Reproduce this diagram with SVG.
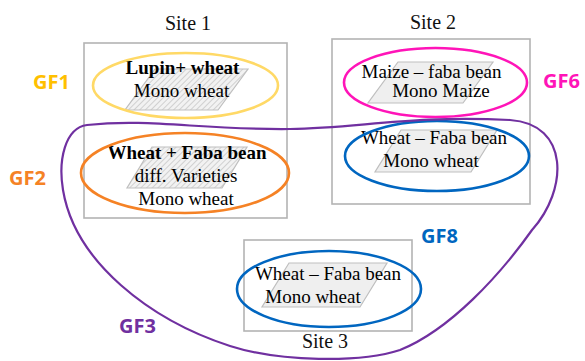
<svg xmlns="http://www.w3.org/2000/svg" width="585" height="361" viewBox="0 0 585 361">
<defs>
<pattern id="hatch" patternUnits="userSpaceOnUse" width="4" height="4" patternTransform="rotate(45)">
<rect width="4" height="4" fill="#f2f2f2"/>
<line x1="0" y1="0" x2="0" y2="4" stroke="#c8c8c8" stroke-width="1.6"/>
</pattern>
<style>
.site{fill:none;stroke:#b3b3b3;stroke-width:1.6}
.pg{stroke:#bfbfbf;stroke-width:1.2}
.solid{fill:#efefef}
.hat{fill:url(#hatch)}
.t{font-family:"Liberation Serif","Times New Roman",serif;font-size:19px;fill:#000;text-anchor:middle}
.b{font-weight:bold}
.st{font-family:"Liberation Serif","Times New Roman",serif;font-size:20px;fill:#111;text-anchor:middle}
.gf{font-family:"Open Sans","Liberation Sans",sans-serif;font-weight:bold;font-size:20px}
.ell{fill:none;stroke-width:2.6}
</style>
</defs>
<g id="site1">
<rect class="site" x="84" y="43" width="203" height="175"/>
<text class="st" x="188" y="30">Site 1</text>
</g>
<g id="site2">
<rect class="site" x="332" y="39" width="198" height="165"/>
<text class="st" x="433" y="29">Site 2</text>
</g>
<g id="site3">
<rect class="site" x="244" y="240" width="168" height="91"/>
<text class="st" x="325" y="348">Site 3</text>
</g>
<g id="gf1">
<polygon class="pg hat" points="155,69 248,69 218,110 125,110"/>
<text class="t b" x="182.5" y="74">Lupin+ wheat</text>
<text class="t" x="181.5" y="97">Mono wheat</text>
<ellipse class="ell" cx="185.5" cy="85.5" rx="92.5" ry="32.5" stroke="#ffd966"/>
<text class="gf" x="33" y="89" fill="#ffc000">GF1</text>
</g>
<g id="gf2">
<polygon class="pg hat" points="152,147 247,147 222,188 127,188"/>
<text class="t b" x="187" y="159">Wheat + Faba bean</text>
<text class="t" x="186" y="182">diff. Varieties</text>
<text class="t" x="186" y="205">Mono wheat</text>
<ellipse class="ell" cx="185" cy="173" rx="104" ry="40" stroke="#f58225"/>
<text class="gf" x="9" y="185" fill="#f58225">GF2</text>
</g>
<g id="gf6">
<polygon class="pg solid" points="398,62 493,62 463,103 368,103"/>
<text class="t" x="431.5" y="78">Maize – faba bean</text>
<text class="t" x="441" y="97">Mono Maize</text>
<ellipse class="ell" cx="435.5" cy="82.5" rx="91.5" ry="34.5" stroke="#ff14b8"/>
<text class="gf" x="543" y="88" fill="#ff14b8">GF6</text>
</g>
<g id="gf8">
<polygon class="pg solid" points="401,130 497,130 471,172 375,172"/>
<text class="t" x="434" y="144">Wheat – Faba bean</text>
<text class="t" x="431" y="167">Mono wheat</text>
<ellipse class="ell" cx="437" cy="156" rx="92" ry="35" stroke="#0066c0"/>
<polygon class="pg solid" points="289,263 387,263 360,307 262,307"/>
<text class="t" x="328" y="280">Wheat – Faba bean</text>
<text class="t" x="313" y="303">Mono wheat</text>
<ellipse class="ell" cx="329" cy="289" rx="92" ry="38" stroke="#0066c0"/>
<text class="gf" x="421" y="243" fill="#0066c0">GF8</text>
</g>
<g id="connectors">
<path id="gf3" d="M 87,125 C 150,118 200,130 290,129 C 360,128 410,115 510,120 C 570,124 568,190 532,230 C 500,275 450,330 400,350 C 360,363 280,362 230,346 C 150,320 75,262 63,190 C 58,160 65,128 87,125 Z" fill="none" stroke="#7030a0" stroke-width="2.2"/>
<text class="gf" x="119" y="333" fill="#7030a0">GF3</text>
</g>
</svg>
